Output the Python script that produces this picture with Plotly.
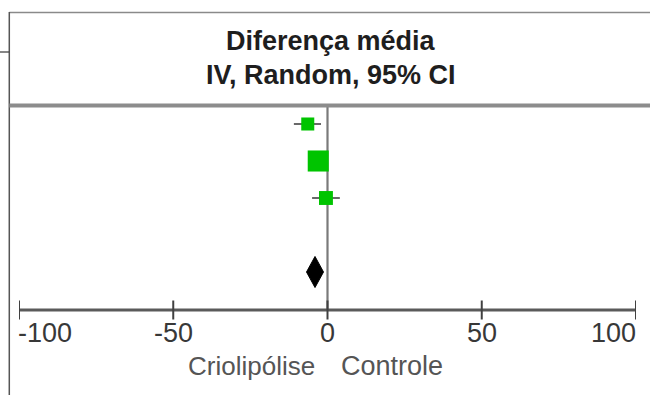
import plotly.graph_objects as go

# ---- data ----
studies = ["Estudo 1", "Estudo 2", "Estudo 3"]
mean_diff = [-6.4, -3.0, -0.5]
ci_low = [-10.9, -5.5, -5.0]
ci_high = [-2.1, -0.5, 4.0]
weights = [21, 55, 24]
total_est = -4.05
total_low = -6.8
total_high = -1.3
tick_vals = [-100, -50, 0, 50, 100]
tick_text = ["-100", "-50", "0", "50", "100"]
title_lines = ["Diferença média", "IV, Random, 95% CI"]
favours = ["Criolipólise", "Controle"]

FONT = "Liberation Sans, Arial, sans-serif"
W, H = 650, 395
L, R, T, B = 19, 14, 106, 85
PW, PH = W - L - R, H - T - B

def px2x(px):
    return (px - L) / PW

def py2y(py):
    return (H - B - py) / PH

rows = [i + 1 for i in range(len(studies))]
total_row = len(studies) + 2

fig = go.Figure()

# study squares with CI whiskers
fig.add_trace(go.Scatter(
    x=mean_diff, y=rows, mode="markers",
    marker=dict(symbol="square", color="#00c400", opacity=1,
                size=[2.84 * w ** 0.5 for w in weights], line=dict(width=0)),
    error_x=dict(type="data", symmetric=False,
                 array=[h - m for h, m in zip(ci_high, mean_diff)],
                 arrayminus=[m - l for m, l in zip(mean_diff, ci_low)],
                 color="#444444", thickness=1.6, width=0),
    hoverinfo="skip", showlegend=False, cliponaxis=False,
))

# total diamond
hh = 0.42
fig.add_trace(go.Scatter(
    x=[total_low, total_est, total_high, total_est, total_low],
    y=[total_row, total_row - hh, total_row, total_row + hh, total_row],
    mode="lines", fill="toself", fillcolor="black",
    line=dict(color="black", width=1),
    hoverinfo="skip", showlegend=False,
))

shapes = []
# zero line
shapes.append(dict(type="line", xref="x", yref="paper", x0=0, x1=0, y0=0, y1=1,
                   line=dict(color="#7a7a7a", width=2.2), layer="below"))
# axis line
shapes.append(dict(type="line", xref="x", yref="paper", x0=tick_vals[0], x1=tick_vals[-1],
                   y0=0, y1=0, line=dict(color="#5a5a5a", width=3)))
# ticks
for tv in tick_vals:
    shapes.append(dict(type="line", xref="x", yref="paper", x0=tv, x1=tv,
                       y0=py2y(319.5), y1=py2y(300.5), line=dict(color="#404040", width=2)))
# frame: top border, left border, header line, stub
shapes.append(dict(type="line", xref="paper", yref="paper", x0=px2x(9.3), x1=px2x(650),
                   y0=py2y(12.5), y1=py2y(12.5), line=dict(color="#8a8a8a", width=1.5)))
shapes.append(dict(type="line", xref="paper", yref="paper", x0=px2x(9.3), x1=px2x(9.3),
                   y0=py2y(12), y1=py2y(396), line=dict(color="#555555", width=1.5)))
shapes.append(dict(type="line", xref="paper", yref="paper", x0=px2x(9.3), x1=px2x(650),
                   y0=py2y(105.5), y1=py2y(105.5), line=dict(color="#8c8c8c", width=4)))
shapes.append(dict(type="line", xref="paper", yref="paper", x0=px2x(-1), x1=px2x(9.3),
                   y0=py2y(52), y1=py2y(52), line=dict(color="#444444", width=1.3)))

annotations = []
# header
for txt, cy in zip(title_lines, [41.0, 74.5]):
    annotations.append(dict(text="<b>%s</b>" % txt, xref="paper", yref="paper",
                            x=px2x(331), y=py2y(cy), xanchor="center", yanchor="middle",
                            showarrow=False, font=dict(family=FONT, size=27, color="#1e1e1e")))
# tick labels (end labels aligned inwards)
for i, (tv, tt) in enumerate(zip(tick_vals, tick_text)):
    anchor = "left" if i == 0 else ("right" if i == len(tick_vals) - 1 else "center")
    shift = -3 if i == 0 else (2 if i == len(tick_vals) - 1 else 0)
    annotations.append(dict(text=tt, xref="x", yref="paper", x=tv, y=py2y(333.0),
                            xanchor=anchor, yanchor="middle", xshift=shift,
                            showarrow=False, font=dict(family=FONT, size=27, color="#383838")))
# favours labels
annotations.append(dict(text=favours[0], xref="x", yref="paper", x=0, y=py2y(366),
                        xanchor="right", yanchor="middle", xshift=-11,
                        showarrow=False, font=dict(family=FONT, size=26, color="#555555")))
annotations.append(dict(text=favours[1], xref="x", yref="paper", x=0, y=py2y(366),
                        xanchor="left", yanchor="middle", xshift=11,
                        showarrow=False, font=dict(family=FONT, size=27, color="#555555")))

fig.update_layout(
    width=W, height=H,
    margin=dict(l=L, r=R, t=T, b=B, pad=0),
    paper_bgcolor="white", plot_bgcolor="white",
    xaxis=dict(range=[tick_vals[0], tick_vals[-1]], showgrid=False, zeroline=False,
               showticklabels=False, showline=False, ticks="", fixedrange=True),
    yaxis=dict(range=[1 + (H - B - T - 18) / 37.0, 1 - 18 / 37.0], autorange=False,
               showgrid=False, zeroline=False, showticklabels=False, showline=False,
               ticks="", fixedrange=True),
    shapes=shapes, annotations=annotations,
)

fig.write_html(
    "out.html", config={"displayModeBar": False, "staticPlot": True},
    post_script=("document.head.insertAdjacentHTML('beforeend',"
                 "'<style>::-webkit-scrollbar{display:none;width:0;height:0}"
                 "html,body{margin:0;padding:0;overflow:hidden;scrollbar-width:none}</style>');"
                 "var gd=document.getElementById('{plot_id}');"
                 "gd.style.position='fixed';gd.style.left='0px';gd.style.top='0px';"
                 "window.scrollTo(0,0);"))
